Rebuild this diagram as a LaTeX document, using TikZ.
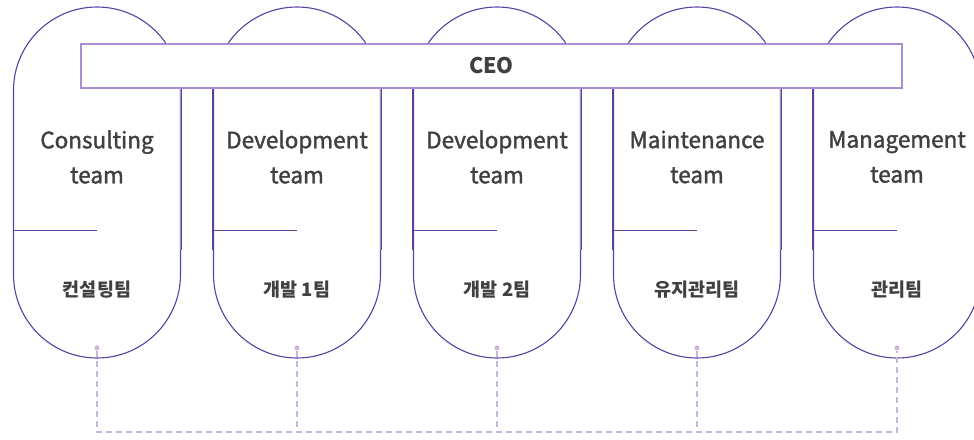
\documentclass[tikz,border=0pt]{standalone}
\usepackage{fontspec}
\setmainfont{Noto Sans CJK KR}
\newfontfamily\medfont[FakeBold=1.6]{Noto Sans CJK KR}
\usetikzlibrary{positioning}

\definecolor{teamline}{HTML}{5B3FA3}
\definecolor{ceoline}{HTML}{A88FCF}
\definecolor{linkline}{HTML}{CBB5DF}
\definecolor{txt}{HTML}{404040}

\tikzset{
	capsule/.style={draw=teamline, line width=1.1pt, rounded corners=83.5pt,
		minimum width=167pt, minimum height=351pt, inner sep=0pt},
	ceobox/.style={draw=ceoline, line width=2.2pt, fill=white,
		minimum width=821pt, minimum height=44pt, inner sep=0pt,
		text=txt, font=\fontsize{21.5}{21.5}\bfseries},
	ceoleg/.style={draw=ceoline, line width=2.4pt},
	teamname/.style={text=txt, align=center, font=\fontsize{22.5}{35}\medfont},
	koname/.style={text=txt, font=\fontsize{18.5}{18.5}\bfseries},
	dot/.style={circle, fill=linkline, minimum size=5pt, inner sep=0pt},
	link/.style={draw=linkline, line width=1.2pt, dash pattern=on 6pt off 4pt}
}

\begin{document}
\begin{tikzpicture}[x=1pt, y=-1pt]
\useasboundingbox (0,0) rectangle (974,439);
\clip (0,0) rectangle (974,439);
\coordinate (split) at (0,230.5);
\coordinate (legend) at (0,250);
\coordinate (bus) at (0,432);

% teams
\foreach \en/\ko [count=\i] in {Consulting\\team/컨설팅팀, Development\\team/개발 1팀,
	Development\\team/개발 2팀, Maintenance\\team/유지관리팀, Management\\team/관리팀} {
	\node[capsule] (team\i) at (97+200*\i-200, 182.5) {};
	\draw[teamline, line width=1.1pt] (team\i.west |- split) -- (team\i.center |- split);
	\node[teamname] (en\i) at (97+200*\i-200, 157) {\en};
	\node[koname] (ko\i) at (97+200*\i-200, 290) {\ko};
	\node[dot, above=8pt of team\i.south] (dot\i) {};
	};

% CEO bar
\node[ceobox] (ceo) at (491.5,66) {CEO};
\foreach \i in {1,...,4} {
	\draw[ceoleg] (ceo.south -| team\i.east) -- (team\i.east |- legend);
	\pgfmathtruncatemacro{\j}{\i+1}
	\draw[ceoleg] (ceo.south -| team\j.west) -- (team\j.west |- legend);
	}
\foreach \i in {1,...,5} {
	\draw[teamline, line width=1.1pt] (ceo.south -| team\i.east) -- (team\i.east |- legend);
	}
\foreach \i in {2,...,5} {
	\draw[teamline, line width=1.1pt] (ceo.south -| team\i.west) -- (team\i.west |- legend);
	}

% dashed links
\draw[link] (dot1) |- (dot5 |- bus) -- (dot5);
\foreach \i in {2,3,4} {
	\draw[link] (dot\i) -- (dot\i |- bus);
	}
\end{tikzpicture}
\end{document}
